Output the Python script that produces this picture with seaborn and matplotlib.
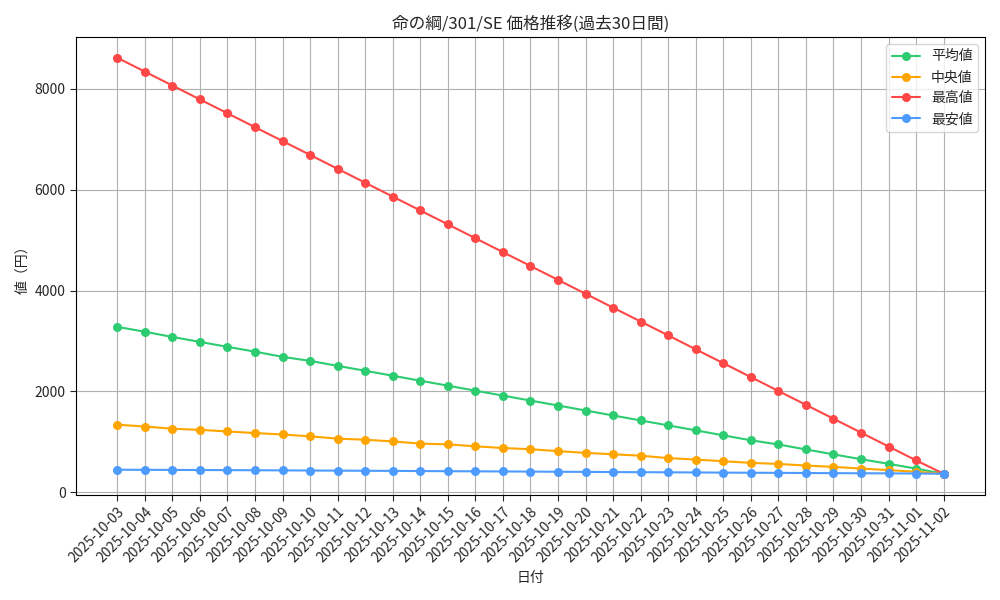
import pandas as pd
import matplotlib
matplotlib.use('Agg')
import matplotlib.pyplot as plt
import seaborn as sns

# Datos del grafico
fechas = pd.date_range('2025-10-03', '2025-11-02').strftime('%Y-%m-%d').tolist()

promedio = [3280, 3183, 3080, 2982, 2884, 2789, 2686, 2606, 2507, 2410, 2312, 2213, 2115, 2016, 1918,
            1820, 1722, 1623, 1525, 1426, 1328, 1230, 1131, 1033, 950, 852, 755, 658, 567, 472, 370]
mediana = [1342, 1306, 1262, 1240, 1208, 1176, 1148, 1111, 1066, 1044, 1011, 967, 952, 914, 880,
           856, 818, 784, 756, 728, 680, 652, 618, 586, 564, 533, 506, 474, 442, 410, 370]
maximo = [8610, 8335, 8060, 7785, 7510, 7235, 6960, 6685, 6410, 6135, 5860, 5585, 5310, 5035, 4760,
          4485, 4210, 3935, 3660, 3385, 3110, 2835, 2560, 2285, 2010, 1735, 1460, 1185, 910, 635, 370]
minimo = [450, 448, 446, 444, 442, 440, 437, 434, 432, 429, 427, 424, 421, 418, 416,
          413, 410, 407, 404, 401, 399, 396, 393, 390, 388, 385, 382, 380, 378, 375, 370]

series = ['平均値', '中央値', '最高値', '最安値']
colores = ['#2ecc71', '#ffa500', '#ff4747', '#4d9bff']

df = pd.DataFrame({'日付': fechas, '平均値': promedio, '中央値': mediana,
                   '最高値': maximo, '最安値': minimo})
df_largo = df.melt(id_vars='日付', value_vars=series, var_name='種類', value_name='価格')

sns.set_style('white')
plt.rcParams['font.family'] = ['Noto Sans CJK JP', 'DejaVu Sans']

fig, ax = plt.subplots(figsize=(10, 6), dpi=100)
sns.lineplot(data=df_largo, x='日付', y='価格', hue='種類', hue_order=series,
             palette=colores, marker='o', markersize=6.5, markeredgewidth=0,
             linewidth=1.5, sort=False, ax=ax)

ax.set_title('命の綱/301/SE 価格推移(過去30日間)', fontsize=12)
ax.set_xlabel('日付', fontsize=10)
ax.set_ylabel('値（円）', fontsize=10)
ax.grid(True, color='#b0b0b0', linewidth=0.8)
ax.tick_params(axis='x', rotation=45, labelsize=10)
ax.tick_params(axis='y', labelsize=10)
for lbl in ax.get_xticklabels():
    lbl.set_ha('right')
    lbl.set_rotation_mode('anchor')
ax.tick_params(direction='out', length=4, bottom=True, left=True)
for s in ax.spines.values():
    s.set_color('black')
ax.legend(title=None, loc='upper right', fontsize=10)

plt.tight_layout()
plt.savefig('out.png')
